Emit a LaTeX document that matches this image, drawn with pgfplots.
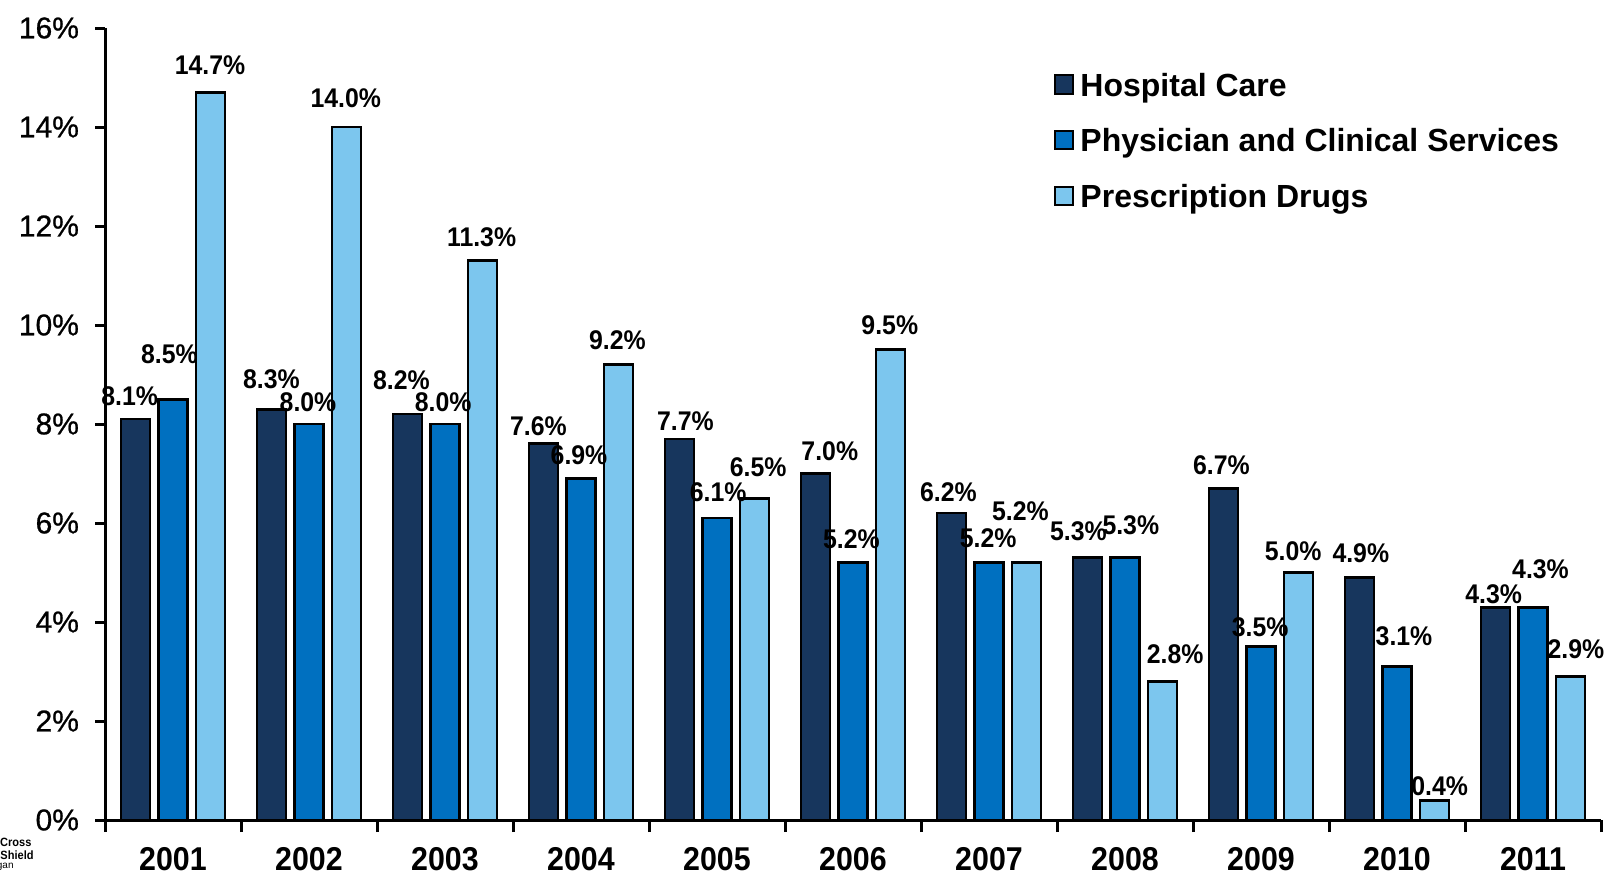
\documentclass[border=0pt]{standalone}
\usepackage{fontspec}
\setmainfont{Liberation Sans}
\newfontfamily\condfont[FakeStretch=0.92]{Liberation Sans}
\newfontfamily\tickfont[FakeBold=0.8]{Liberation Sans}
\usepackage{pgfplots}
\pgfplotsset{compat=1.18}
\usepackage{pgfplotstable}

\definecolor{hosp}{HTML}{17365D}
\definecolor{phys}{HTML}{0070C0}
\definecolor{drug}{HTML}{7CC6EE}

\pgfplotstableread{
x v dx dy
0 8.1 -2.9 11.6
1 8.3 0 14.8
2 8.2 -3 17
3 7.6 -2.5 9
4 7.7 3 9
5 7.0 7.2 10.9
6 6.2 -1.5 10.3
7 5.3 -4.5 13
8 6.7 -1 11.7
9 4.9 0.7 12
10 4.3 -0.9 6.5
}\hospT

\pgfplotstableread{
x v dx dy
0 8.5 -1.8 22.5
1 8.0 -0.5 10.9
2 8.0 -0.9 10.9
3 6.9 -1 11.5
4 6.1 0.6 12.9
5 5.2 -0.8 11.6
6 5.2 -0.4 12.3
7 5.3 2.9 16.3
8 3.5 -0.4 9.6
9 3.1 3.5 15.4
10 4.3 3.75 19
}\physT

\pgfplotstableread{
x v dx dy
0 14.7 -0.3 13.7
1 14.0 -0.4 14.4
2 11.3 -0.5 11.6
3 9.2 -0.6 12.3
4 6.5 1.8 15.4
5 9.5 -0.4 12.2
6 5.2 -3.1 25.9
7 2.8 6.3 13.6
8 5.0 -2.75 10.4
9 0.4 2.5 7.2
10 2.9 2.65 13.6
}\drugT

\pgfplotsset{
  barlab/.style={
    nodes near coords={\pgfmathprintnumber[fixed,fixed zerofill,precision=1,assume math mode=true]{\pgfplotspointmeta}\%},
    point meta=y,
    visualization depends on={\thisrow{dx}\as\labdx},
    visualization depends on={\thisrow{dy}\as\labdy},
    nodes near coords style={anchor=center, inner sep=0pt, text=black,
      xshift=#1, xshift=\labdx, yshift=\labdy,
      font=\condfont\bfseries\fontsize{13.5}{15}\selectfont},
  },
}

\begin{document}
\begin{tikzpicture}
\path[use as bounding box] (-52.5pt,-27.5pt) rectangle (756pt,410pt);
\begin{axis}[
  scale only axis, width=748pt, height=396pt,
  xmin=-0.5, xmax=10.5, ymin=0, ymax=16,
  clip=false,
  axis x line=bottom, axis y line=left,
  axis line style={-, black, line width=1.5pt},
  tick style={black, line width=1.5pt},
  tick align=outside,
  major tick length=5pt, minor tick length=6pt,
  xtick={0,1,2,3,4,5,6,7,8,9,10},
  xticklabels={2001,2002,2003,2004,2005,2006,2007,2008,2009,2010,2011},
  minor xtick={-0.5,0.5,...,10.5},
  major x tick style={draw=none},
  ytick={0,2,...,16},
  yticklabels={0\%,2\%,4\%,6\%,8\%,10\%,12\%,14\%,16\%},
  yticklabel style={font=\tickfont\fontsize{15}{16}\selectfont, xshift=-4.5pt},
  xticklabel style={font=\condfont\bfseries\fontsize{16.5}{18}\selectfont, yshift=-5pt},
  legend image code/.code={\draw[#1, line width=1pt] (0pt,-2.95pt) rectangle (9.2pt,6.25pt);},
  legend style={draw=none, fill=none, inner sep=0pt, outer sep=0pt,
    at={(0.6344,0.9433)}, anchor=north west, row sep=12.8pt, column sep=0pt,
    font=\bfseries\fontsize{16}{18}\selectfont,
    nodes={inner xsep=3pt, inner ysep=0pt, text height=11.6pt, text depth=3.4pt}},
  legend cell align=left,
]
\addplot[ybar, bar width=14.5pt, bar shift=-18.8pt, fill=hosp, draw=black, line width=1.35pt, barlab=-18.8pt]
  table[x=x, y=v] {\hospT};
\addplot[ybar, bar width=14.5pt, bar shift=0pt, fill=phys, draw=black, line width=1.35pt, barlab=0pt]
  table[x=x, y=v] {\physT};
\addplot[ybar, bar width=14.5pt, bar shift=18.8pt, fill=drug, draw=black, line width=1.35pt, barlab=18.8pt]
  table[x=x, y=v] {\drugT};
\legend{Hospital Care, Physician and Clinical Services, Prescription Drugs}
\end{axis}
\node[anchor=base east, inner sep=0pt, font=\condfont\bfseries\fontsize{6}{7}\selectfont] at (-36.6pt,-13pt) {Cross};
\node[anchor=base east, inner sep=0pt, font=\condfont\bfseries\fontsize{6}{7}\selectfont] at (-35.5pt,-19.7pt) {Shield};
\node[anchor=base east, inner sep=0pt, font=\fontsize{5}{6}\selectfont] at (-45.5pt,-24pt) {gan};
\end{tikzpicture}
\end{document}
